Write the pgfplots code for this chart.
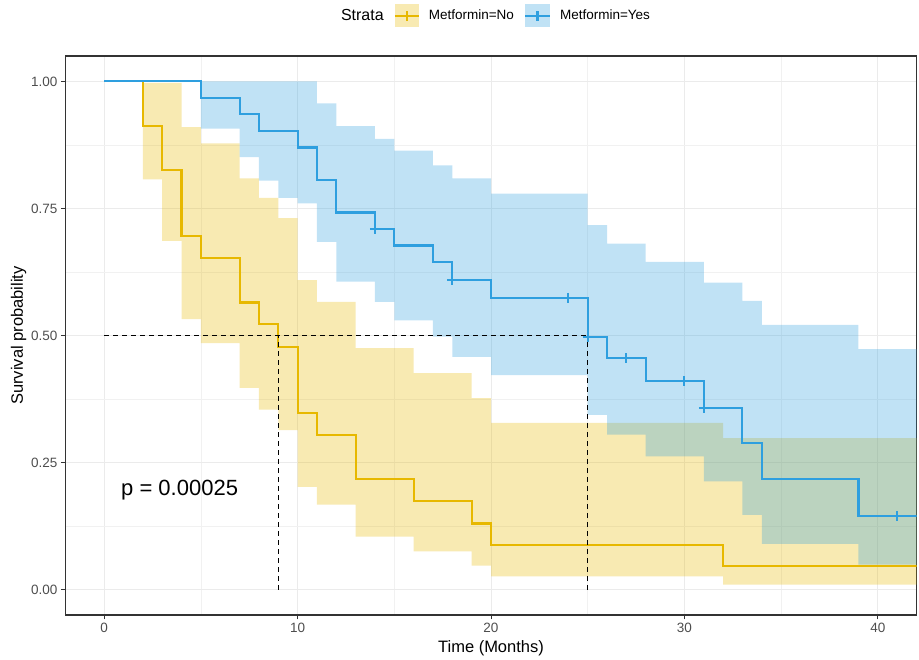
\documentclass[border=0pt]{standalone}
\usepackage{fontspec}
\setmainfont{Liberation Sans}
\usepackage{pgfplots}
\pgfplotsset{compat=1.18}
\usepgfplotslibrary{fillbetween}

\definecolor{noline}{HTML}{E7B800}
\definecolor{yesline}{HTML}{2E9FDF}
\definecolor{gridmaj}{HTML}{EBEBEB}
\definecolor{ticklab}{HTML}{4D4D4D}
\definecolor{frame}{HTML}{333333}

\begin{document}
\begin{tikzpicture}
\begin{axis}[
    at={(0pt,0pt)}, anchor=south west,
    scale only axis, width=851pt, height=559pt,
    xmin=-2, xmax=42, ymin=-0.05, ymax=1.05,
    xtick={0,10,20,30,40}, ytick={0,0.25,0.5,0.75,1},
    minor xtick={5,15,25,35}, minor ytick={0.125,0.375,0.625,0.875},
    grid=both,
    major grid style={gridmaj, line width=0.9pt},
    minor grid style={gridmaj!70!white, line width=0.5pt},
    axis line style={frame, line width=1.1pt},
    xtick pos=left, ytick pos=left,
    tick align=outside, major tick length=4.5pt, minor tick length=0pt,
    tick style={frame, line width=1pt},
    tick label style={font=\fontsize{13.5}{14}\selectfont, text=ticklab},
    /pgf/number format/assume math mode=true,
    y tick label style={/pgf/number format/.cd, fixed, fixed zerofill, precision=2},
    xlabel={Time (Months)},
    xlabel style={font=\fontsize{16.5}{18}\selectfont, at={(axis description cs:0.5,0)}, anchor=center, yshift=-33pt},
    ylabel={Survival probability},
    ylabel style={font=\fontsize{16.5}{18}\selectfont, at={([xshift=-47pt]axis description cs:0,0.5)}, anchor=center},
    legend style={at={(0.5,1)}, anchor=south, yshift=26.5pt, draw=none, fill=none,
        font=\fontsize{13.5}{14}\selectfont, nodes={inner sep=0pt},
        /tikz/every odd column/.append style={column sep=9pt},
        /tikz/every even column/.append style={column sep=10pt}},
    legend columns=3,
    curve/.style={line width=2.1pt, const plot, line join=miter, forget plot},
]

% Metformin=No confidence band
\addplot[name path=nou, draw=none, const plot, forget plot] coordinates {
 (0,1) (2,0.997) (4,0.910) (5,0.878) (7,0.809) (8,0.771) (9,0.731) (10,0.609)
 (11,0.566) (13,0.475) (16,0.426) (19,0.377) (20,0.328) (32,0.298) (42,0.298)};
\addplot[name path=nol, draw=none, const plot, forget plot] coordinates {
 (0,1) (2,0.807) (3,0.686) (4,0.532) (5,0.485) (7,0.397) (8,0.354) (9,0.314)
 (10,0.202) (11,0.167) (13,0.104) (16,0.075) (19,0.047) (20,0.026) (32,0.010) (42,0.010)};
\addplot[fill=noline, fill opacity=0.3, draw=none, forget plot] fill between[of=nou and nol];

% Metformin=Yes confidence band
\addplot[name path=yesu, draw=none, const plot, forget plot] coordinates {
 (0,1) (11,0.957) (12,0.912) (14,0.887) (15,0.864) (17,0.835) (18,0.809) (20,0.779)
 (25,0.717) (26,0.681) (28,0.645) (31,0.604) (33,0.568) (34,0.521) (39,0.473) (42,0.473)};
\addplot[name path=yesl, draw=none, const plot, forget plot] coordinates {
 (0,1) (5,0.907) (7,0.851) (8,0.805) (9,0.771) (10,0.760) (11,0.684) (12,0.606)
 (14,0.566) (15,0.530) (17,0.498) (18,0.458) (20,0.422) (25,0.344) (26,0.305)
 (28,0.262) (31,0.213) (33,0.147) (34,0.090) (39,0.049) (42,0.049)};
\addplot[fill=yesline, fill opacity=0.3, draw=none, forget plot] fill between[of=yesu and yesl];

% survival curves
\addplot[noline, curve] coordinates {
 (0,1) (2,0.913) (3,0.826) (4,0.696) (5,0.652) (7,0.565) (8,0.522) (9,0.478)
 (10,0.348) (11,0.304) (13,0.217) (16,0.174) (19,0.130) (20,0.087) (32,0.046) (42,0.046)};
\addplot[yesline, curve] coordinates {
 (0,1) (5,0.967) (7,0.935) (8,0.903) (10,0.870) (11,0.806) (12,0.742) (14,0.710)
 (15,0.677) (17,0.644) (18,0.609) (20,0.574) (25,0.497) (26,0.455) (28,0.410)
 (31,0.358) (33,0.289) (34,0.217) (39,0.144) (42,0.144)};
\addplot[only marks, mark=+, yesline, mark size=5pt, forget plot,
    mark options={solid, line width=2.1pt}] coordinates {
 (14,0.710) (18,0.609) (24,0.574) (25,0.497) (27,0.455) (30,0.410) (31,0.358) (41,0.144)};

% median lines
\addplot[black, dash pattern=on 5pt off 4pt, line width=1.3pt, forget plot] coordinates {(0,0.5) (25,0.5)};
\addplot[black, dash pattern=on 5pt off 4pt, line width=1.3pt, forget plot] coordinates {(9,0) (9,0.5)};
\addplot[black, dash pattern=on 5pt off 4pt, line width=1.3pt, forget plot] coordinates {(25,0) (25,0.5)};

\node[font=\fontsize{22}{24}\selectfont] at (axis cs:3.9,0.196) {p = 0.00025};

% legend
\addlegendimage{empty legend}
\addlegendentry{\fontsize{16}{16}\selectfont Strata}
\addlegendimage{legend image code/.code={
  \path[fill=noline, fill opacity=0.3, draw=none] (0pt,-11.5pt) rectangle (24pt,11.5pt);
  \path[draw=noline, line width=2.1pt, solid] (0pt,0pt) -- (24pt,0pt);
  \path[draw=noline, line width=2.1pt, solid] (12pt,-5pt) -- (12pt,5pt);}}
\addlegendentry{Metformin=No}
\addlegendimage{legend image code/.code={
  \path[fill=yesline, fill opacity=0.3, draw=none] (0pt,-11.5pt) rectangle (25pt,11.5pt);
  \path[draw=yesline, line width=2.1pt, solid] (0pt,0pt) -- (25pt,0pt);
  \path[draw=yesline, line width=2.1pt, solid] (12.5pt,-5pt) -- (12.5pt,5pt);}}
\addlegendentry{Metformin=Yes}
\end{axis}
\path (-65.5pt,-44pt) rectangle (853.5pt,615pt);
\end{tikzpicture}
\end{document}
